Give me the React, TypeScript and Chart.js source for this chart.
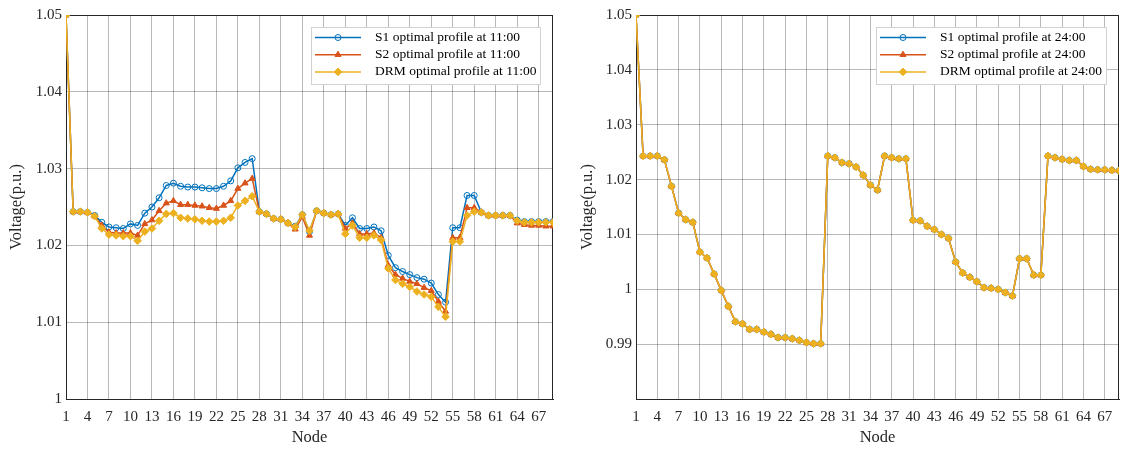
import React, { useEffect, useRef } from 'react';
import { Chart, registerables } from 'chart.js';

Chart.register(...registerables);

// ---------- data ----------
const nodes = [
  1, 2, 3, 4, 5, 6, 7, 8, 9, 10, 11, 12, 13, 14, 15, 16, 17, 18, 19, 20, 21, 22, 23,
  24, 25, 26, 27, 28, 29, 30, 31, 32, 33, 34, 35, 36, 37, 38, 39, 40, 41, 42, 43, 44, 45,
  46, 47, 48, 49, 50, 51, 52, 53, 54, 55, 56, 57, 58, 59, 60, 61, 62, 63, 64, 65, 66, 67,
  68, 69,
];

const xTickValues = [1, 4, 7, 10, 13, 16, 19, 22, 25, 28, 31, 34, 37, 40, 43, 46, 49, 52, 55, 58, 61, 64, 67];
const xTickLabels = ['1', '4', '7', '10', '13', '16', '19', '22', '25', '28', '31', '34', '37', '40', '43', '46', '49', '52', '55', '58', '61', '64', '67'];

const yTickValues11 = [1, 1.01, 1.02, 1.03, 1.04, 1.05];
const yTickLabels11 = ['1', '1.01', '1.02', '1.03', '1.04', '1.05'];
const yTickValues24 = [0.98, 0.99, 1, 1.01, 1.02, 1.03, 1.04, 1.05];
const yTickLabels24 = ['', '0.99', '1', '1.01', '1.02', '1.03', '1.04', '1.05'];

const s1At11 = [
  1.05, 1.0244, 1.0244, 1.0243, 1.0239, 1.023, 1.0224, 1.0223, 1.0222, 1.0228,
  1.0226, 1.0242, 1.025, 1.0262, 1.0278, 1.0281, 1.0277, 1.0276, 1.0276, 1.0275,
  1.0274, 1.0274, 1.0277, 1.0284, 1.0301, 1.0308, 1.0313, 1.0244, 1.0241, 1.0235,
  1.0234, 1.0229, 1.0225, 1.024, 1.0218, 1.0245, 1.0242, 1.024, 1.0241, 1.0226,
  1.0236, 1.0222, 1.0222, 1.0224, 1.0219, 1.0187, 1.0171, 1.0166, 1.0162, 1.0158,
  1.0156, 1.0151, 1.0136, 1.0126, 1.0223, 1.0223, 1.0265, 1.0265, 1.0243, 1.0239,
  1.0239, 1.0239, 1.0239, 1.0233, 1.0231, 1.0231, 1.0231, 1.0231, 1.0231,
];
const s2At11 = [
  1.05, 1.0244, 1.0244, 1.0243, 1.0238, 1.0226, 1.0217, 1.0216, 1.0216, 1.0216,
  1.0213, 1.0228, 1.0233, 1.0245, 1.0255, 1.0258, 1.0253, 1.0253, 1.0252, 1.0251,
  1.0249, 1.0248, 1.0252, 1.0258, 1.0274, 1.0281, 1.0287, 1.0244, 1.0241, 1.0235,
  1.0234, 1.0229, 1.0221, 1.0237, 1.0213, 1.0245, 1.0242, 1.024, 1.0241, 1.0222,
  1.0229, 1.0215, 1.0215, 1.0216, 1.021, 1.0174, 1.0162, 1.0157, 1.0153, 1.015,
  1.0145, 1.0141, 1.0127, 1.0114, 1.021, 1.021, 1.0249, 1.0249, 1.0243, 1.0239,
  1.0239, 1.0239, 1.0239, 1.0229, 1.0227, 1.0226, 1.0226, 1.0225, 1.0225,
];
const drmAt11 = [
  1.05, 1.0244, 1.0244, 1.0243, 1.0238, 1.0222, 1.0214, 1.0213, 1.0212, 1.0212,
  1.0206, 1.0218, 1.0222, 1.0232, 1.0241, 1.0242, 1.0236, 1.0235, 1.0234, 1.0232,
  1.0231, 1.0231, 1.0232, 1.0236, 1.0252, 1.0258, 1.0264, 1.0244, 1.0241, 1.0235,
  1.0234, 1.0229, 1.0224, 1.024, 1.0219, 1.0245, 1.0242, 1.024, 1.0241, 1.0215,
  1.0226, 1.021, 1.021, 1.0213, 1.0207, 1.017, 1.0155, 1.015, 1.0146, 1.014,
  1.0136, 1.0133, 1.012, 1.0107, 1.0205, 1.0205, 1.0239, 1.0244, 1.0243, 1.0239,
  1.0239, 1.0239, 1.0239, 1.0232, 1.023, 1.023, 1.023, 1.023, 1.023,
];

const s1At24 = [
  1.05, 1.0243, 1.0243, 1.0243, 1.0236, 1.0188, 1.0139, 1.0127, 1.0122, 1.0068,
  1.0057, 1.0028, 0.9998, 0.9969, 0.9941, 0.9937, 0.9927, 0.9927, 0.9922, 0.9918,
  0.9912, 0.9912, 0.991, 0.9907, 0.9903, 0.9901, 0.9901, 1.0243, 1.024, 1.0231,
  1.0229, 1.0223, 1.0208, 1.019, 1.0181, 1.0243, 1.024, 1.0238, 1.0238, 1.0126,
  1.0125, 1.0115, 1.0109, 1.01, 1.0093, 1.005, 1.003, 1.0022, 1.0014, 1.0003,
  1.0002, 1.0, 0.9994, 0.9988, 1.0056, 1.0056, 1.0026, 1.0026, 1.0243, 1.024,
  1.0237, 1.0235, 1.0235, 1.0224, 1.0219, 1.0218, 1.0218, 1.0217, 1.0216,
];
const s2At24 = [
  1.05, 1.0243, 1.0243, 1.0243, 1.0236, 1.0188, 1.0139, 1.0127, 1.0122, 1.0068,
  1.0057, 1.0028, 0.9998, 0.9969, 0.9941, 0.9937, 0.9927, 0.9927, 0.9922, 0.9918,
  0.9912, 0.9912, 0.991, 0.9907, 0.9903, 0.9901, 0.9901, 1.0243, 1.024, 1.0231,
  1.0229, 1.0223, 1.0208, 1.019, 1.0181, 1.0243, 1.024, 1.0238, 1.0238, 1.0126,
  1.0125, 1.0115, 1.0109, 1.01, 1.0093, 1.005, 1.003, 1.0022, 1.0014, 1.0003,
  1.0002, 1.0, 0.9994, 0.9988, 1.0056, 1.0056, 1.0026, 1.0026, 1.0243, 1.024,
  1.0237, 1.0235, 1.0235, 1.0224, 1.0219, 1.0218, 1.0218, 1.0217, 1.0216,
];
const drmAt24 = [
  1.05, 1.0243, 1.0243, 1.0243, 1.0236, 1.0188, 1.0139, 1.0127, 1.0122, 1.0068,
  1.0057, 1.0028, 0.9998, 0.9969, 0.9941, 0.9937, 0.9927, 0.9927, 0.9922, 0.9918,
  0.9912, 0.9912, 0.991, 0.9907, 0.9903, 0.9901, 0.9901, 1.0243, 1.024, 1.0231,
  1.0229, 1.0223, 1.0208, 1.019, 1.0181, 1.0243, 1.024, 1.0238, 1.0238, 1.0126,
  1.0125, 1.0115, 1.0109, 1.01, 1.0093, 1.005, 1.003, 1.0022, 1.0014, 1.0003,
  1.0002, 1.0, 0.9994, 0.9988, 1.0056, 1.0056, 1.0026, 1.0026, 1.0243, 1.024,
  1.0237, 1.0235, 1.0235, 1.0224, 1.0219, 1.0218, 1.0218, 1.0217, 1.0216,
];

const legend11 = ['S1 optimal profile at 11:00', 'S2 optimal profile at 11:00', 'DRM optimal profile at 11:00'];
const legend24 = ['S1 optimal profile at 24:00', 'S2 optimal profile at 24:00', 'DRM optimal profile at 24:00'];

// ---------- styles ----------
const FONT = '"Liberation Serif", "Times New Roman", serif';
const AXIS = '#262626';
const GRID = 'rgba(38,38,38,0.32)';
const BLUE = '#0072BD';
const ORANGE = '#D95319';
const YELLOW = '#EDB120';
const STYLES = [
  { color: BLUE, style: 'circle', radius: 3, fill: 'rgba(0,0,0,0)', order: 3 },
  { color: ORANGE, style: 'triangle', radius: 3.5, fill: ORANGE, order: 2 },
  { color: YELLOW, style: 'rectRot', radius: 3.8, fill: YELLOW, order: 1 },
];

function drawMarker(ctx: CanvasRenderingContext2D, kind: string, x: number, y: number, r: number, color: string, fill: string) {
  ctx.beginPath();
  if (kind === 'circle') {
    ctx.arc(x, y, r, 0, Math.PI * 2);
  } else if (kind === 'triangle') {
    ctx.moveTo(x, y - r);
    ctx.lineTo(x + r * 0.866, y + r * 0.5);
    ctx.lineTo(x - r * 0.866, y + r * 0.5);
    ctx.closePath();
  } else {
    ctx.moveTo(x, y - r);
    ctx.lineTo(x + r, y);
    ctx.lineTo(x, y + r);
    ctx.lineTo(x - r, y);
    ctx.closePath();
  }
  ctx.fillStyle = fill;
  ctx.fill();
  ctx.strokeStyle = color;
  ctx.lineWidth = 1;
  ctx.stroke();
}

function makePlugins(texts: string[]) {
  return [
    {
      id: 'axesBox',
      beforeDatasetsDraw(chart: any) {
        const { ctx, chartArea } = chart;
        const { left, right, top, bottom } = chartArea;
        ctx.save();
        ctx.strokeStyle = AXIS;
        ctx.lineWidth = 1;
        ctx.beginPath();
        const t = Math.round(top) + 0.5;
        const r = Math.round(right) - 0.5;
        ctx.moveTo(left, t);
        ctx.lineTo(right, t);
        ctx.moveTo(r, top);
        ctx.lineTo(r, bottom);
        ctx.stroke();
        ctx.restore();
      },
    },
    {
      id: 'matlabLegend',
      afterDraw(chart: any) {
        const { ctx, chartArea } = chart;
        ctx.save();
        ctx.font = `13.5px ${FONT}`;
        const maxW = Math.max(...texts.map((t) => ctx.measureText(t).width));
        const w = Math.round(64 + maxW + 4);
        const right = Math.round(chartArea.right - 13);
        const left = right - w;
        const top = Math.round(chartArea.top + 12);
        const h = 57;
        ctx.fillStyle = '#ffffff';
        ctx.fillRect(left, top, w, h);
        ctx.strokeStyle = '#d2d2d2';
        ctx.lineWidth = 1;
        ctx.strokeRect(left + 0.5, top + 0.5, w, h);
        texts.forEach((text, i) => {
          const st = STYLES[i];
          const y = top + 10.5 + i * 17.2;
          ctx.beginPath();
          ctx.moveTo(left + 4, y);
          ctx.lineTo(left + 50, y);
          ctx.strokeStyle = st.color;
          ctx.lineWidth = 1.5;
          ctx.stroke();
          drawMarker(ctx, st.style, left + 27, y, st.radius, st.color, st.fill);
          ctx.fillStyle = '#000000';
          ctx.textBaseline = 'middle';
          ctx.textAlign = 'left';
          ctx.fillText(text, left + 64, y);
        });
        ctx.restore();
      },
    },
  ];
}

interface PanelProps {
  series: number[][];
  texts: string[];
  yMin: number;
  yMax: number;
  yTicks: number[];
  yLabels: string[];
  yWidth: number;
  titlePad: number;
  padRight: number;
  left: number;
  width: number;
}

function Panel(p: PanelProps) {
  const ref = useRef<HTMLCanvasElement | null>(null);
  useEffect(() => {
    if (!ref.current) return;
    const datasets = p.series.map((vals, si) => {
      const st = STYLES[si];
      return {
        label: p.texts[si],
        data: nodes.map((n, i) => ({ x: n, y: vals[i] })),
        borderColor: st.color,
        backgroundColor: st.fill,
        pointBackgroundColor: st.fill,
        pointBorderColor: st.color,
        pointStyle: st.style,
        pointRadius: st.radius,
        pointBorderWidth: 1,
        borderWidth: 1.5,
        tension: 0,
        order: st.order,
      };
    });
    const chart = new Chart(ref.current, {
      type: 'line',
      data: { datasets } as any,
      plugins: makePlugins(p.texts) as any,
      options: {
        animation: false,
        responsive: false,
        maintainAspectRatio: false,
        devicePixelRatio: 1,
        events: [],
        layout: { padding: { left: 0, right: p.padRight, top: 15, bottom: 0 } },
        plugins: { legend: { display: false }, tooltip: { enabled: false } },
        scales: {
          x: {
            type: 'linear',
            min: 1,
            max: 69,
            afterBuildTicks: (s: any) => {
              s.ticks = xTickValues.map((v) => ({ value: v }));
            },
            afterFit: (s: any) => {
              s.height = 51;
            },
            ticks: {
              autoSkip: false,
              maxRotation: 0,
              padding: 9,
              color: AXIS,
              font: { family: FONT, size: 15 },
              callback: (v: any) => {
                const idx = xTickValues.indexOf(Number(v));
                return idx >= 0 ? xTickLabels[idx] : '';
              },
            },
            grid: { color: GRID, lineWidth: 1, drawTicks: false },
            border: { display: true, color: AXIS, width: 1 },
            title: {
              display: true,
              text: 'Node',
              color: AXIS,
              font: { family: FONT, size: 16.5 },
              padding: { top: 0, bottom: 2 },
            },
          },
          y: {
            type: 'linear',
            min: p.yMin,
            max: p.yMax,
            afterBuildTicks: (s: any) => {
              s.ticks = p.yTicks.map((v) => ({ value: v }));
            },
            afterFit: (s: any) => {
              s.width = p.yWidth;
            },
            ticks: {
              autoSkip: false,
              padding: 4,
              color: AXIS,
              font: { family: FONT, size: 15 },
              callback: (v: any) => {
                let best = 0;
                p.yTicks.forEach((t, i) => {
                  if (Math.abs(t - Number(v)) < Math.abs(p.yTicks[best] - Number(v))) best = i;
                });
                return p.yLabels[best];
              },
            },
            grid: { color: GRID, lineWidth: 1, drawTicks: false },
            border: { display: true, color: AXIS, width: 1 },
            title: {
              display: true,
              text: 'Voltage(p.u.)',
              color: AXIS,
              font: { family: FONT, size: 16.5 },
              padding: { top: p.titlePad, bottom: 0 },
            },
          },
        },
      } as any,
    });
    return () => chart.destroy();
  }, []);
  return (
    <canvas
      ref={ref}
      width={p.width}
      height={450}
      style={{ position: 'absolute', left: p.left, top: 0, width: p.width, height: 450 }}
    />
  );
}

export default function App() {
  return (
    <div
      style={{
        position: 'absolute',
        left: 0,
        top: 0,
        width: 1121,
        height: 450,
        overflow: 'hidden',
        background: '#ffffff',
      }}
    >
      <Panel
        series={[s1At11, s2At11, drmAt11]}
        texts={legend11}
        yMin={1}
        yMax={1.05}
        yTicks={yTickValues11}
        yLabels={yTickLabels11}
        yWidth={66}
        titlePad={7}
        padRight={7}
        left={0}
        width={560}
      />
      <Panel
        series={[s1At24, s2At24, drmAt24]}
        texts={legend24}
        yMin={0.98}
        yMax={1.05}
        yTicks={yTickValues24}
        yLabels={yTickLabels24}
        yWidth={76}
        titlePad={18}
        padRight={1.5}
        left={560}
        width={564}
      />
    </div>
  );
}
